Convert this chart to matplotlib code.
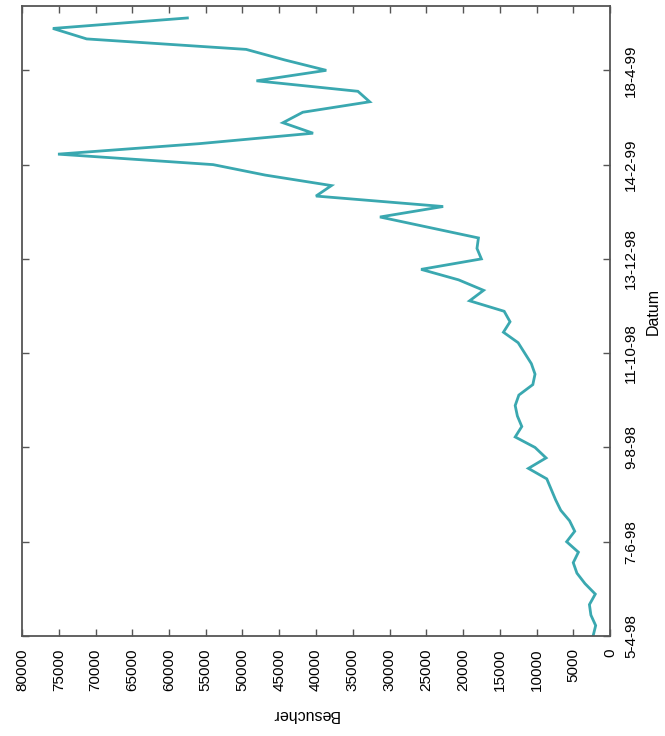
import datetime as dt
import matplotlib
matplotlib.use("Agg")
import matplotlib.pyplot as plt
import matplotlib.dates as mdates

plt.rcParams["font.family"] = ["Liberation Sans", "DejaVu Sans"]

# Weekly visitor counts, first week starting 5 April 1998
start = dt.date(1998, 4, 5)
besucher = [
    2300, 1950, 2600, 2800, 2000, 3400, 4500, 5000, 4300, 5900,
    4800, 5500, 6700, 7400, 8000, 8600, 11100, 8700, 10200, 12900,
    12000, 12600, 12900, 12400, 10500, 10200, 10700, 11600, 12500, 14500,
    13600, 14400, 19100, 17200, 20600, 25700, 17500, 18100, 17900, 24600,
    31300, 22700, 40000, 37900, 46900, 54000, 75100, 55900, 40400, 44500,
    41800, 32700, 34300, 48100, 38600, 44300, 49500, 71200, 75800, 57500,
]
datum = [start + dt.timedelta(weeks=i) for i in range(len(besucher))]

value_ticks = list(range(0, 80001, 5000))
date_ticks = [dt.date(1998, 4, 5), dt.date(1998, 6, 7), dt.date(1998, 8, 9),
              dt.date(1998, 10, 11), dt.date(1998, 12, 13), dt.date(1999, 2, 14),
              dt.date(1999, 4, 18)]
date_labels = ["5-4-98", "7-6-98", "9-8-98", "11-10-98", "13-12-98", "14-2-99", "18-4-99"]

fig = plt.figure(figsize=(6.65, 7.36), dpi=100)
ax = fig.add_axes([22 / 665, 100 / 736, 588 / 665, 630 / 736])

# Chart is laid out turned on its side: visitors run right-to-left, dates bottom-to-top
ax.plot(besucher, datum, color="#3aa8b0", linewidth=2.0, solid_joinstyle="miter")

ax.set_xlim(80000, 0)
ax.set_ylim(dt.date(1998, 4, 5), dt.date(1999, 5, 31))

ax.set_xticks(value_ticks)
ax.set_xticklabels([str(v) for v in value_ticks], rotation=90, va="top", ha="center")
ax.set_yticks([mdates.date2num(d) for d in date_ticks])
ax.set_yticklabels(date_labels, rotation=90, va="center", ha="left")

ax.tick_params(axis="both", which="both", direction="in", length=5, width=1.0,
               color="#555555", labelsize=11, top=True, bottom=True, left=True,
               right=True, labelleft=False, labelright=True, labeltop=False,
               labelbottom=True)
ax.tick_params(axis="x", pad=9)
ax.tick_params(axis="y", pad=10)

ax.yaxis.set_label_position("right")
ax.set_ylabel("Datum", rotation=90, fontsize=11.5)
ax.yaxis.set_label_coords(1.06, 0.515)
ax.set_xlabel("Besucher", rotation=180, fontsize=11.5)
ax.xaxis.set_label_coords(0.481, -0.113)

for s in ax.spines.values():
    s.set_color("#555555")
    s.set_linewidth(1.3)

fig.savefig("out.png", dpi=100)
